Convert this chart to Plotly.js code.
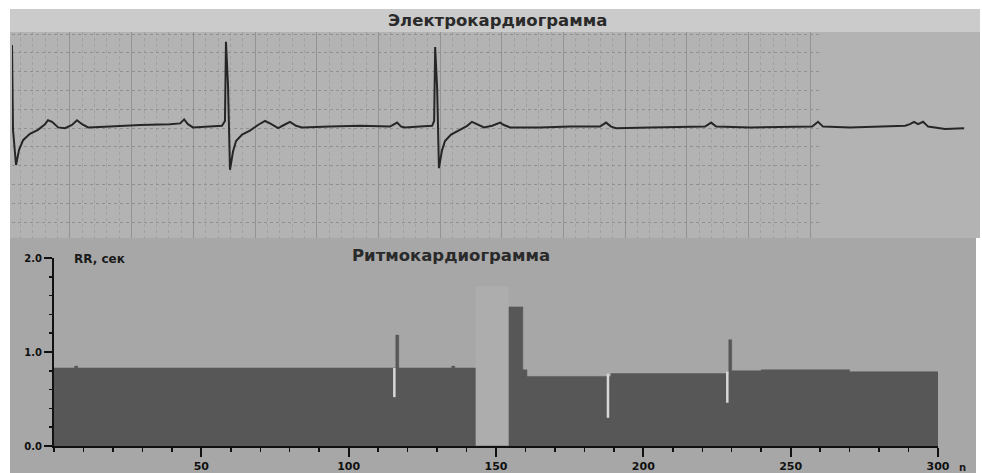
<!DOCTYPE html>
<html>
<head>
<meta charset="utf-8">
<script src="https://cdn.plot.ly/plotly-3.0.1.min.js"></script>
<style>html,body{margin:0;padding:0;background:#fff;}#chart{width:982px;height:473px;}</style>
</head>
<body>
<div id="chart"></div>
<script>
// ---- ECG trace (time in s, amplitude in mV) ----
var ecgT = [0, 0.004, 0.016, 0.028, 0.044, 0.071, 0.103, 0.131, 0.143, 0.159, 0.183, 0.210, 0.238, 0.258, 0.278, 0.302, 0.389, 0.508, 0.627, 0.667, 0.683, 0.698, 0.718, 0.786, 0.833, 0.845, 0.849, 0.857, 0.865, 0.877, 0.889, 0.913, 0.944, 0.976, 1.004, 1.024, 1.056, 1.079, 1.103, 1.127, 1.151, 1.262, 1.381, 1.500, 1.512, 1.528, 1.544, 1.560, 1.619, 1.667, 1.675, 1.679, 1.687, 1.694, 1.706, 1.718, 1.742, 1.774, 1.806, 1.825, 1.845, 1.873, 1.905, 1.925, 1.937, 1.952, 1.976, 2.095, 2.214, 2.333, 2.357, 2.377, 2.397, 2.532, 2.651, 2.750, 2.774, 2.794, 2.929, 3.087, 3.175, 3.198, 3.218, 3.325, 3.444, 3.544, 3.563, 3.579, 3.595, 3.615, 3.635, 3.702, 3.778];
var ecgV = [1.00, -0.06, -0.50, -0.31, -0.19, -0.11, -0.06, 0.01, 0.06, 0.04, -0.03, -0.04, 0.00, 0.06, 0.01, -0.03, -0.02, 0.00, 0.01, 0.02, 0.07, 0.01, -0.03, -0.02, -0.01, 0.05, 1.04, 0.50, -0.56, -0.33, -0.20, -0.12, -0.07, 0.00, 0.05, 0.02, -0.04, 0.00, 0.04, -0.01, -0.03, -0.02, -0.01, -0.02, 0.00, 0.03, -0.02, -0.03, -0.02, -0.01, 0.05, 0.975, 0.45, -0.54, -0.32, -0.20, -0.12, -0.06, -0.01, 0.04, 0.01, -0.03, -0.01, 0.02, 0.03, 0.00, -0.03, -0.03, -0.02, -0.02, 0.03, -0.02, -0.04, -0.03, -0.02, -0.02, 0.03, -0.02, -0.03, -0.02, -0.02, 0.04, -0.02, -0.03, -0.02, -0.01, 0.01, 0.04, 0.01, 0.04, -0.02, -0.05, -0.04];

// ---- Rhythmogram: RR interval (s) per beat, as step boundaries ----
var rrBeat  = [0, 7, 8, 116, 117, 135, 136, 143, 154.4, 159.1, 160.5, 189, 229, 230, 240, 270, 300];
var rrValue = [0.83, 0.85, 0.83, 1.18, 0.83, 0.85, 0.83, 0, 1.48, 0.81, 0.74, 0.77, 1.13, 0.80, 0.81, 0.79, 0.79];

// short (ectopic) beats shown as light strokes
var shortBeat = [115.5, 188, 228.5];
var shortLow  = [0.52, 0.30, 0.46];
var shortHigh = [0.83, 0.77, 0.79];

// artefact (noisy) segment
var artBeat = [148.7];
var artWidth = [11.4];
var artValue = [1.70];

var xTickVals = [50, 100, 150, 200, 250, 300];
var xTickText = ['50', '100', '150', '200', '250', '300'];
var yTickVals = [0, 1, 2];
var yTickText = ['0.0', '1.0', '2.0'];

var W = 982, H = 473;
function px(x) { return x / W; }
function py(y) { return 1 - y / H; }

var shortX = [], shortY = [];
for (var i = 0; i < shortBeat.length; i++) {
  shortX.push(shortBeat[i], shortBeat[i], null);
  shortY.push(shortLow[i], shortHigh[i], null);
}

var traces = [
  {type: 'scatter', mode: 'lines', x: ecgT, y: ecgV, xaxis: 'x2', yaxis: 'y2',
   line: {color: '#262626', width: 2}, hoverinfo: 'skip'},
  {type: 'bar', x: artBeat, y: artValue, width: artWidth, xaxis: 'x', yaxis: 'y',
   marker: {color: '#adadad', line: {width: 0}}, hoverinfo: 'skip'},
  {type: 'scatter', mode: 'lines', x: rrBeat, y: rrValue, xaxis: 'x', yaxis: 'y',
   line: {shape: 'hv', color: '#575757', width: 0.5}, fill: 'tozeroy', fillcolor: '#575757', hoverinfo: 'skip'},
  {type: 'scatter', mode: 'lines', x: shortX, y: shortY, xaxis: 'x', yaxis: 'y',
   line: {color: '#d8d8d8', width: 2.5}, hoverinfo: 'skip', connectgaps: false}
];

var boldFont = 'DejaVu Sans, Verdana, sans-serif';

var layout = {
  width: W, height: H,
  margin: {l: 0, r: 0, t: 0, b: 0, pad: 0},
  paper_bgcolor: '#ffffff',
  plot_bgcolor: 'rgba(0,0,0,0)',
  showlegend: false,
  barmode: 'overlay',
  font: {family: boldFont, color: '#1a1a1a'},
  xaxis2: {
    domain: [px(12), px(975)], range: [0, 3.821], anchor: 'y2',
    showticklabels: false, ticks: '', zeroline: false, showline: false,
    showgrid: true, gridcolor: '#939393', gridwidth: 1,
    tick0: 0.230, dtick: 0.2448,
    minor: {tick0: 0.230, dtick: 0.04896, showgrid: true, gridcolor: '#a0a0a0', griddash: 'dot', gridwidth: 1}
  },
  yaxis2: {
    domain: [py(238), py(32)], range: [-1.4125, 1.1625], anchor: 'x2',
    showticklabels: false, ticks: '', zeroline: false, showline: false,
    showgrid: true, gridcolor: '#919191', griddash: 'dot', gridwidth: 1,
    tick0: -0.0375, dtick: 0.235
  },
  xaxis: {
    domain: [px(54), px(938)], range: [0, 300], anchor: 'y',
    showgrid: false, zeroline: false,
    showline: true, linecolor: '#111111', linewidth: 2,
    tickmode: 'array', tickvals: xTickVals, ticktext: xTickText,
    ticks: 'outside', ticklen: 9, tickwidth: 2, tickcolor: '#111111',
    tickfont: {family: boldFont, size: 11, color: '#111111', weight: 'bold'},
    minor: {tickmode: 'linear', tick0: 0, dtick: 10, ticks: 'outside', ticklen: 4, tickwidth: 1.5, tickcolor: '#111111'}
  },
  yaxis: {
    domain: [py(446), py(258)], range: [0, 2], anchor: 'x',
    showgrid: false, zeroline: false,
    showline: true, linecolor: '#111111', linewidth: 2,
    tickmode: 'array', tickvals: yTickVals, ticktext: yTickText,
    ticks: 'outside', ticklen: 8, tickwidth: 2, tickcolor: '#111111',
    tickfont: {family: boldFont, size: 10, color: '#111111', weight: 'bold'},
    minor: {tickmode: 'linear', tick0: 0, dtick: 0.2, ticks: 'outside', ticklen: 3, tickwidth: 1.5, tickcolor: '#111111'}
  },
  shapes: [
    {type: 'rect', xref: 'paper', yref: 'paper', x0: px(10), x1: px(980), y0: py(32), y1: py(9),
     fillcolor: '#cbcbcb', line: {width: 0}, layer: 'below'},
    {type: 'rect', xref: 'paper', yref: 'paper', x0: px(10), x1: px(980), y0: py(238), y1: py(32),
     fillcolor: '#b3b3b3', line: {width: 0}, layer: 'below'},
    {type: 'rect', xref: 'paper', yref: 'paper', x0: px(10), x1: px(976), y0: 0, y1: py(238),
     fillcolor: '#a7a7a7', line: {width: 0}, layer: 'below'},
    {type: 'rect', xref: 'x2', yref: 'y2', x0: 3.214, x1: 3.821, y0: -1.4125, y1: 1.1625,
     fillcolor: '#b3b3b3', line: {width: 0}, layer: 'between'}
  ],
  annotations: [
    {text: '<b>Электрокардиограмма</b>', xref: 'paper', yref: 'paper', x: px(498), y: py(20),
     xanchor: 'center', yanchor: 'middle', showarrow: false, font: {family: boldFont, size: 16.5, color: '#2a2a2a'}},
    {text: '<b>Ритмокардиограмма</b>', xref: 'paper', yref: 'paper', x: px(451), y: py(255),
     xanchor: 'center', yanchor: 'middle', showarrow: false, font: {family: boldFont, size: 16.5, color: '#2a2a2a'}},
    {text: '<b>RR, сек</b>', xref: 'paper', yref: 'paper', x: px(72), y: py(259),
     xanchor: 'left', yanchor: 'middle', showarrow: false, font: {family: boldFont, size: 12, color: '#1a1a1a'}},
    {text: '<b>n</b>', xref: 'paper', yref: 'paper', x: px(962), y: py(467),
     xanchor: 'center', yanchor: 'middle', showarrow: false, font: {family: boldFont, size: 10, color: '#1a1a1a'}}
  ]
};

Plotly.newPlot('chart', traces, layout, {staticPlot: true, displayModeBar: false});
</script>
</body>
</html>
